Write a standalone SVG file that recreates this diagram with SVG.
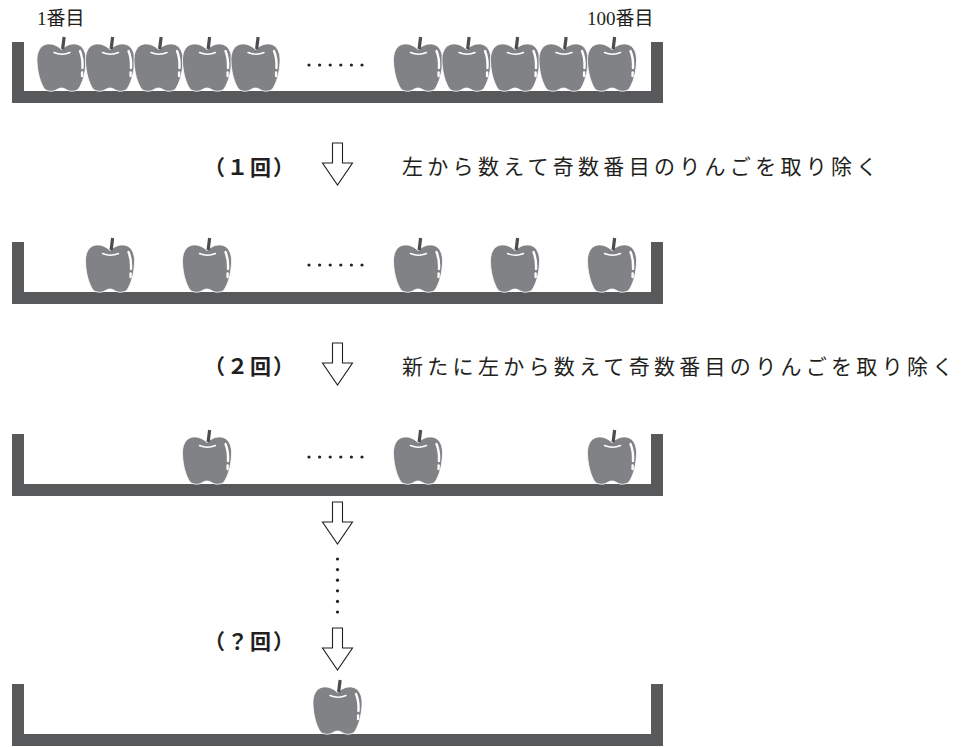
<svg xmlns="http://www.w3.org/2000/svg" xmlns:xlink="http://www.w3.org/1999/xlink" width="966" height="747" viewBox="0 0 966 747">
  <style>
    .tray { fill: #58595b; }
    .body { fill: #818285; stroke: #ffffff; stroke-width: 0.8; }
    .stem { stroke: #4d4d4f; stroke-width: 3.2; fill: none; }
    .shine { stroke: #ffffff; fill: none; stroke-linecap: round; }
    .dot { fill: #231f20; }
    .arrow { fill: #ffffff; stroke: #231f20; stroke-width: 1.1; stroke-linejoin: miter; }
    .note { font-family: "Liberation Serif", "Noto Sans CJK JP", serif; font-size: 19px; fill: #231f20; }
    .step { font-family: "Noto Sans CJK JP", "Liberation Sans", sans-serif; font-size: 21px; font-weight: bold; letter-spacing: 2px; fill: #231f20; }
    .rule { font-family: "Noto Sans CJK JP", "Liberation Serif", serif; font-size: 21px; letter-spacing: 4.3px; fill: #231f20; }
  </style>
  <defs>
    <!-- apple, origin at the bottom centre -->
    <g id="apple">
      <path class="body" d="M0,-41.5 C4,-45.5 9,-47.5 14,-47 C22,-46 25,-38 24.5,-29 C24,-18 21,-8 17,-2 C15,0 11,0.6 8,0 C5,-0.8 3,-3 0,-3 C-3,-3 -5,-0.8 -8,0 C-11,0.6 -15,0 -17,-2 C-21,-8 -24,-18 -24.5,-29 C-25,-38 -22,-46 -14,-47 C-9,-47.5 -4,-45.5 0,-41.5 Z"/>
      <line class="stem" x1="1.1" y1="-42" x2="2.6" y2="-54"/>
      <path class="shine" stroke-width="1.5" d="M-7.5,-38.5 Q0.5,-35 8.5,-38.5"/>
      <path class="shine" stroke-width="2.4" d="M18.5,-40 Q21.5,-33 21,-23"/>
      <line class="shine" stroke-width="2.4" x1="20.6" y1="-18.5" x2="20.6" y2="-15"/>
    </g>
    <g id="dots">
      <circle cx="309" cy="0" r="1.6"/>
      <circle cx="319.6" cy="0" r="1.6"/>
      <circle cx="330.2" cy="0" r="1.6"/>
      <circle cx="340.8" cy="0" r="1.6"/>
      <circle cx="351.4" cy="0" r="1.6"/>
      <circle cx="362" cy="0" r="1.6"/>
    </g>
    <!-- hollow down arrow, top of the shaft at y=0 -->
    <polygon id="down" class="arrow" points="332.5,0 342.5,0 342.5,20 352.5,20 337.5,42 322.5,20 332.5,20"/>
  </defs>

  <!-- all 100 apples -->
  <g id="tray-start">
    <text class="note" x="37" y="25">1番目</text>
    <text class="note" x="587" y="25">100番目</text>
    <path class="tray" d="M12,42 H24 V91 H651 V42 H663 V103 H12 Z"/>
    <use xlink:href="#apple" x="61.5" y="91"/>
    <use xlink:href="#apple" x="110" y="91"/>
    <use xlink:href="#apple" x="158.5" y="91"/>
    <use xlink:href="#apple" x="207" y="91"/>
    <use xlink:href="#apple" x="255.5" y="91"/>
    <use xlink:href="#dots" class="dot" y="65"/>
    <use xlink:href="#apple" x="418" y="91"/>
    <use xlink:href="#apple" x="466.5" y="91"/>
    <use xlink:href="#apple" x="515" y="91"/>
    <use xlink:href="#apple" x="563.5" y="91"/>
    <use xlink:href="#apple" x="612" y="91"/>
  </g>

  <g id="step-1">
    <text class="step" x="204" y="175">（１回）</text>
    <text class="rule" x="402" y="174">左から数えて奇数番目のりんごを取り除く</text>
  </g>

  <g id="tray-after-1">
    <path class="tray" d="M12,242 H24 V292 H651 V242 H663 V304 H12 Z"/>
    <use xlink:href="#apple" x="110" y="292"/>
    <use xlink:href="#apple" x="207" y="292"/>
    <use xlink:href="#dots" class="dot" y="265"/>
    <use xlink:href="#apple" x="418" y="292"/>
    <use xlink:href="#apple" x="515" y="292"/>
    <use xlink:href="#apple" x="612" y="292"/>
  </g>

  <g id="step-2">
    <text class="step" x="204" y="374">（２回）</text>
    <text class="rule" x="402" y="374">新たに左から数えて奇数番目のりんごを取り除く</text>
  </g>

  <g id="tray-after-2">
    <path class="tray" d="M12,434 H24 V484 H651 V434 H663 V496 H12 Z"/>
    <use xlink:href="#apple" x="207" y="484"/>
    <use xlink:href="#dots" class="dot" y="457"/>
    <use xlink:href="#apple" x="418" y="484"/>
    <use xlink:href="#apple" x="612" y="484"/>
  </g>

  <g id="step-last">
    <text class="step" x="204" y="649">（？回）</text>
  </g>

  <g id="tray-end">
    <path class="tray" d="M12,684 H24 V734 H651 V684 H663 V746 H12 Z"/>
    <use xlink:href="#apple" x="337.5" y="734"/>
  </g>

  <!-- arrows and the vertical ellipsis between steps -->
  <g id="connectors">
    <use xlink:href="#down" y="143"/>
    <use xlink:href="#down" y="343"/>
    <use xlink:href="#down" y="502"/>
    <g class="dot">
      <circle cx="337.5" cy="559" r="1.6"/>
      <circle cx="337.5" cy="569.6" r="1.6"/>
      <circle cx="337.5" cy="580.2" r="1.6"/>
      <circle cx="337.5" cy="590.8" r="1.6"/>
      <circle cx="337.5" cy="601.4" r="1.6"/>
      <circle cx="337.5" cy="612" r="1.6"/>
    </g>
    <use xlink:href="#down" y="628"/>
  </g>
</svg>
